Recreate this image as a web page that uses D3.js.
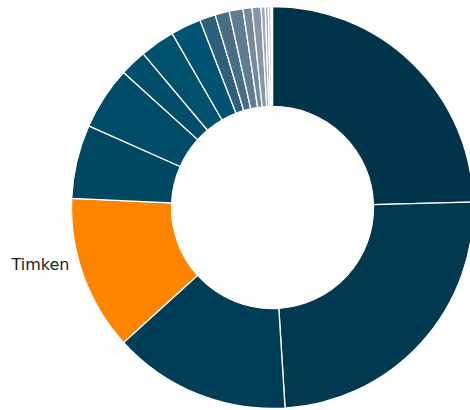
<!DOCTYPE html>
<html>
<head>
<meta charset="utf-8">
<script src="https://cdn.jsdelivr.net/npm/d3@7"></script>
<style>
  html, body { margin: 0; padding: 0; background: #fff; }
  svg { display: block; }
</style>
</head>
<body>
<svg id="chart" width="470" height="410"></svg>
<script>
const companies = ["SKF", "Schaeffler", "NSK", "Timken", "NTN", "JTEKT", "NACHI", "MinebeaMitsumi", "C&U", "ZWZ", "LYC", "RBC", "THK", "Kaydon", "NKE", "FKL", "ORS", "Others"];
const shares = [24.56, 24.44, 14.28, 12.44, 5.92, 5.08, 2.14, 2.81, 2.44, 1.28, 1.14, 1.11, 0.72, 0.72, 0.33, 0.25, 0.22, 0.11];
const colors = ["#00344b", "#003950", "#003d56", "#ff8400", "#004862", "#004b67", "#004e6a", "#00516e", "#005373",
                "#2e5f7c", "#4a6d86", "#5f7c92", "#74899c", "#8696a7", "#9aa7b4", "#abb6c0", "#bdc5cd", "#cfd5db"];
const labelled = ["Timken"];

const svg = d3.select("#chart");
const cx = 272.5, cy = 207.5, outerR = 201, innerR = 101;

const data = companies.map((c, i) => ({ name: c, value: shares[i], color: colors[i] }));
const pie = d3.pie().sort(null).value(d => d.value).startAngle(0).endAngle(2 * Math.PI);
const arc = d3.arc().innerRadius(innerR).outerRadius(outerR);
const arcs = pie(data);

const g = svg.append("g").attr("transform", `translate(${cx},${cy})`);
g.selectAll("path").data(arcs).join("path")
  .attr("d", arc)
  .attr("fill", d => d.data.color)
  .attr("stroke", "#fff")
  .attr("stroke-width", 1.3)
  .attr("stroke-linejoin", "round");

arcs.filter(d => labelled.includes(d.data.name)).forEach(d => {
  const c = arc.centroid(d);
  g.append("text")
    .attr("x", -outerR - 2)
    .attr("y", c[1] + 6.5)
    .attr("text-anchor", "end")
    .attr("dominant-baseline", "middle")
    .attr("font-family", "DejaVu Sans, Verdana, sans-serif")
    .attr("font-size", 16)
    .attr("fill", "#222")
    .text(d.data.name);
});
</script>
</body>
</html>
